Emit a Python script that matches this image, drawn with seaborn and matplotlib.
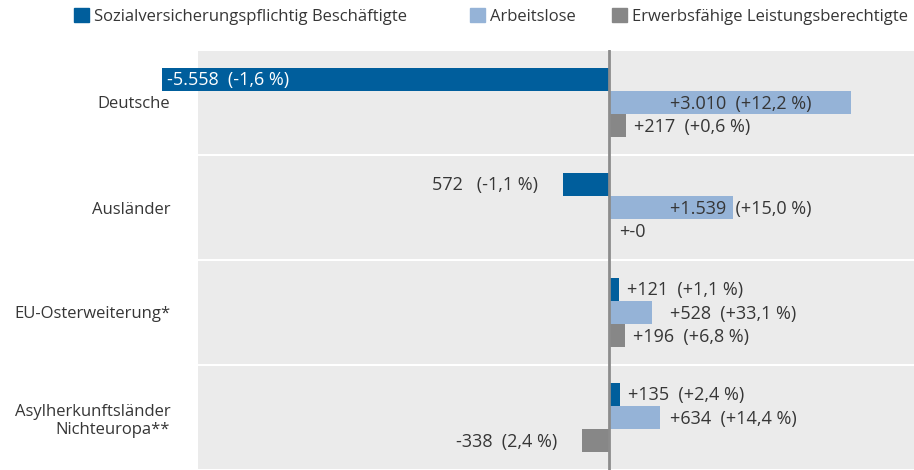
import matplotlib
matplotlib.use("Agg")
import matplotlib.pyplot as plt
import matplotlib.patches as mpatches
import seaborn as sns
import pandas as pd

# data
groups = ["Deutsche", "Ausländer", "EU-Osterweiterung*",
          "Asylherkunftsländer\nNichteuropa**"]
series = ["Sozialversicherungspflichtig Beschäftigte", "Arbeitslose",
          "Erwerbsfähige Leistungsberechtigte"]
beschaeftigte = [-5558, -572, 121, 135]
arbeitslose = [3010, 1539, 528, 634]
elb = [217, 0, 196, -338]
labels_b = ["-5.558  (-1,6 %)", "572   (-1,1 %)", "+121  (+1,1 %)", "+135  (+2,4 %)"]
labels_a = ["+3.010  (+12,2 %)", "+1.539  (+15,0 %)", "+528  (+33,1 %)", "+634  (+14,4 %)"]
labels_e = ["+217  (+0,6 %)", "+-0", "+196  (+6,8 %)", "-338  (2,4 %)"]

colors = ["#005e9c", "#95b3d7", "#878787"]
TXT = "#363636"
BG = "#ebebeb"

rows = []
for vals, s in zip([beschaeftigte, arbeitslose, elb], series):
    for g, v in zip(groups, vals):
        rows.append({"group": g, "series": s, "value": v})
df = pd.DataFrame(rows)

sns.set_style("white")
plt.rcParams["font.family"] = ["Open Sans", "DejaVu Sans"]

fig = plt.figure(figsize=(9.14, 4.7), dpi=100)
ax = fig.add_axes([198 / 914, 0, (914 - 198) / 914, 420 / 470])

# grey panels per group
for i in range(len(groups)):
    ax.axhspan(i - 0.5 + 0.013, i + 0.5 - 0.013, color=BG, lw=0, zorder=0)

sns.barplot(data=df, x="value", y="group", hue="series", orient="h",
            palette=colors, saturation=1, width=0.665, linewidth=0,
            legend=False, ax=ax, zorder=2)
for p in ax.patches:
    p.set_clip_on(False)

ax.set_xlim(-5106, 3789)
ax.set_ylim(3.5, -0.5)
ax.axvline(0, color="#8c8c8c", lw=2, zorder=3)

ax.set_xticks([])
ax.set_xlabel("")
ax.set_ylabel("")
ax.set_yticks(range(len(groups)))
ax.set_yticklabels(groups, fontsize=12, color=TXT, ha="right", multialignment="right")
ax.tick_params(axis="y", length=0, pad=20)
for sp in ax.spines.values():
    sp.set_visible(False)

# value labels
px = (3789 + 5106) / 716  # data units per pixel
bh = 0.665 / 3
fs = 13
for k, (vals, labs) in enumerate(zip([beschaeftigte, arbeitslose, elb],
                                     [labels_b, labels_a, labels_e])):
    for i, (v, lab) in enumerate(zip(vals, labs)):
        y = i + (k - 1) * bh + 0.01
        if v < -3000:
            ax.text(v + 5 * px, y, lab, ha="left", va="center", fontsize=fs,
                    color="white", zorder=4, clip_on=False)
        elif v < 0:
            ax.text(v - 25 * px, y, lab, ha="right", va="center", fontsize=fs,
                    color=TXT, zorder=4)
        elif k == 1:
            ax.text(61 * px, y, lab, ha="left", va="center", fontsize=fs,
                    color=TXT, zorder=4)
        else:
            ax.text(v + (8 if v > 0 else 10) * px, y, lab, ha="left",
                    va="center", fontsize=fs, color=TXT, zorder=4)

# legend entries, one per series
leg_x = [66 / 914, 462 / 914, 604 / 914]
for c, s, lx in zip(colors, series, leg_x):
    lg = fig.legend(handles=[mpatches.Patch(color=c, label=s)],
                    loc="upper left", bbox_to_anchor=(lx, 1.0),
                    frameon=False, fontsize=12, handlelength=0.9,
                    handleheight=0.9, handletextpad=0.3,
                    labelcolor=TXT, borderaxespad=0.2, borderpad=0.3)

fig.savefig("out.png", dpi=100)
